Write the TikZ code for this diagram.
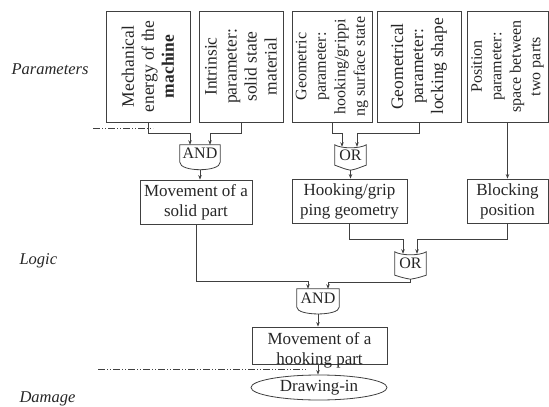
\documentclass[tikz,border=0pt]{standalone}
\usepackage{fontspec}
\setmainfont{Liberation Serif}
\usetikzlibrary{arrows.meta,calc,shapes.geometric}
\begin{document}
\begin{tikzpicture}[x=1pt,y=-1pt,
  every node/.style={font=\fontsize{17}{20}\selectfont, text=black!85},
  ln/.style={draw=black!75, line width=0.8pt},
  arr/.style={ln, -{Stealth[length=4.5pt,width=3.5pt]}},
  vbox/.style={ln, rotate=90, align=center, inner sep=1pt, minimum width=111pt},
  big/.style={font=\fontsize{17.5}{20}\selectfont},
  small/.style={font=\fontsize{16}{19.5}\selectfont},
  hbox/.style={ln, align=center, inner sep=1pt},
  gate/.style={inner sep=0pt, font=\fontsize{16}{19}\selectfont},
  dd/.style={draw=black!75, line width=0.8pt, dash pattern=on 7pt off 2pt on 1pt off 2pt on 1pt off 2pt},
  lab/.style={font=\fontsize{16.5}{20}\selectfont\itshape, anchor=base west}
]
\useasboundingbox (0,0) rectangle (549,407);

% side labels
\node[lab] (lpar) at (8,74) {Parameters};
\node[lab] (llog) at (16,264) {Logic};
\node[lab] (ldam) at (16,402) {Damage};

% parameter boxes (rotated)
\node[vbox, big, minimum height=84pt] (b1) at (148,66.5) {Mechanical\\energy of the\\\textbf{machine}};
\node[vbox, big, minimum height=84pt] (b2) at (241,66.5) {Intrinsic\\parameter:\\solid state\\material};
\node[vbox, small, minimum height=80pt] (b3) at (332,66.5) {Geometric\\parameter:\\hooking/grippi\\ng surface state};
\node[vbox, big, minimum height=84pt] (b4) at (419,66.5) {Geometrical\\parameter:\\locking shape};
\node[vbox, small, minimum height=81pt] (b5) at (507.5,66.5) {Position\\parameter:\\space between\\two parts};

% gates
\node[gate, minimum width=40pt, minimum height=17pt] (and1) at (200,153.5) {AND};
\draw[ln] (and1.north west) -- (and1.south west) .. controls +(0,10) and +(0,10) .. (and1.south east) -- (and1.north east) -- cycle;
\coordinate (and1a) at ($(and1.north)+(-10,0)$);
\coordinate (and1b) at ($(and1.north)+(10,0)$);
\coordinate (and1o) at ($(and1.south)+(0,7.5)$);

\node[gate, minimum width=31pt, minimum height=20pt] (or1) at (350.5,155) {OR};
\draw[ln] (or1.north west) .. controls +(6,4) and +(-6,4) .. (or1.north east) -- (or1.south east)
  .. controls +(-6,2) and +(6,-1) .. ($(or1.south)+(0,5)$)
  .. controls +(-6,-1) and +(6,2) .. (or1.south west) -- cycle;
\coordinate (or1a) at ($(or1.north)+(-8.5,2)$);
\coordinate (or1b) at ($(or1.north)+(6.5,2)$);
\coordinate (or1o) at ($(or1.south)+(0,5)$);

\node[gate, minimum width=31pt, minimum height=23pt] (or2) at (410.5,263.5) {OR};
\draw[ln] (or2.north west) .. controls +(6,4) and +(-6,4) .. (or2.north east) -- (or2.south east)
  .. controls +(-6,2) and +(6,-1) .. ($(or2.south)+(0,4)$)
  .. controls +(-6,-1) and +(6,2) .. (or2.south west) -- cycle;
\coordinate (or2a) at ($(or2.north)+(-7.5,2)$);
\coordinate (or2b) at ($(or2.north)+(6.5,2)$);
\coordinate (or2o) at ($(or2.south)+(0,4)$);

\node[gate, minimum width=42pt, minimum height=18pt] (and2) at (318,298) {AND};
\draw[ln] (and2.north west) -- (and2.south west) .. controls +(0,9) and +(0,9) .. (and2.south east) -- (and2.north east) -- cycle;
\coordinate (and2a) at ($(and2.north)+(-10,0)$);
\coordinate (and2b) at ($(and2.north)+(10,0)$);
\coordinate (and2o) at ($(and2.south)+(0,6.75)$);

% intermediate boxes
\node[hbox, minimum width=112pt, minimum height=44pt] (sp) at (196,202) {Movement of a\\solid part};
\node[hbox, minimum width=115pt, minimum height=44pt] (hg) at (349.5,201) {Hooking/grip\\ping geometry};
\node[hbox, minimum width=81pt, minimum height=44pt] (bl) at (507.5,201) {Blocking\\position};
\node[hbox, minimum width=135pt, minimum height=37pt] (hp) at (319.5,345.5) {};
\node[align=center, inner sep=0pt] (hpt) at (319.5,350) {Movement of a\\hooking part};
\node[ln, ellipse, inner sep=0pt, minimum width=136pt, minimum height=25pt] (dr) at (319,387.5) {Drawing-in};

% dash-dot separators
\coordinate (d1a) at (93,128);
\coordinate (d1b) at (153,128);
\coordinate (d2a) at (98,369);
\coordinate (d2b) at (307,369);
\draw[dd] (d1a) -- (d1b);
\draw[dd] (d2a) -- (d2b);

% connectors
\draw[arr] (b1.west) -- ++(0,11) -| (and1a);
\draw[arr] (b2.west) -- ++(0,11) -| (and1b);
\draw[arr] (and1o) -- (and1o |- sp.north);
\draw[arr] (b3.west) -- ++(0,11) -| (or1a);
\draw[arr] (b4.west) -- ++(0,11) -| (or1b);
\draw[arr] (or1o) -- (or1o |- hg.north);
\draw[arr] (b5.west) -- (b5.west |- bl.north);
\draw[arr] (sp.south) -- ++(0,57) -| (and2a);
\draw[arr] (or2o) -- ++(0,3) -| (and2b);
\draw[arr] (hg.south) -- ++(0,16) -| (or2a);
\draw[arr] (bl.south) -- ++(0,16) -| (or2b);
\draw[arr] (and2o) -- (and2o |- hp.north);
\draw[arr] (and2o |- hp.south) -- (and2o |- dr.north);
\end{tikzpicture}
\end{document}
